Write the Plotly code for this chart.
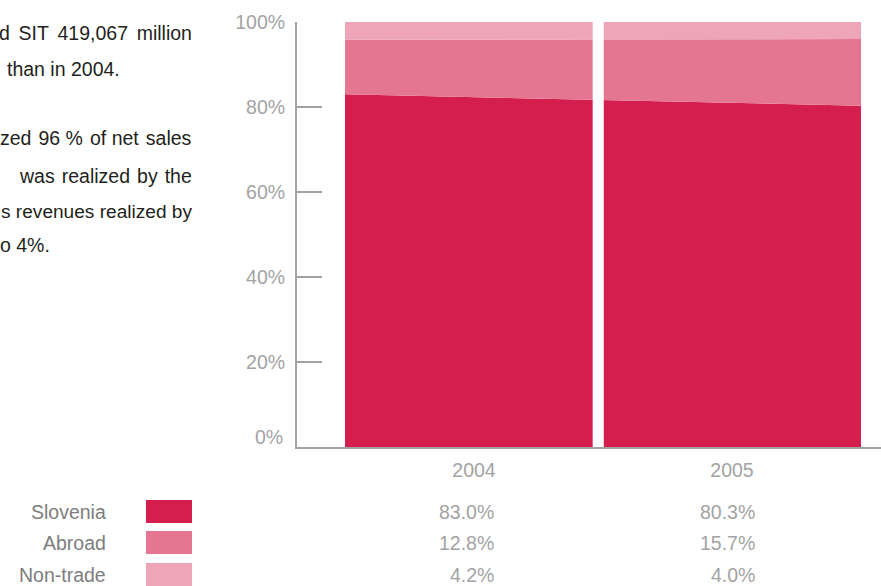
import plotly.graph_objects as go

# --- data -------------------------------------------------------------
years = [2004, 2005]
year_labels = ["2004", "2005"]
categories = ["Slovenia", "Abroad", "Non-trade"]
slovenia = [83.0, 80.3]
abroad = [12.8, 15.7]
non_trade = [4.2, 4.0]
y_ticks = [0, 20, 40, 60, 80, 100]
y_tick_labels = ["0%", "20%", "40%", "60%", "80%", "100%"]

# justified running text (wider word gaps use nbsp + hair spaces)
NB, HS = "\u00a0", "\u200a"
FS = 19.5
paragraph_right = {
    0: ((NB + HS + HS).join(["d", "SIT", "419,067", "million"]), 194, FS),
    3: ("zed" + NB + HS + "96" + NB + "%" + NB + HS + "of" + NB + "net" + NB + HS + "sales", 194, FS),
    4: ((NB + HS).join(["was", "realized", "by", "the"]), 194, FS),
    5: ("s revenues realized by", 194, 19.1),
}
paragraph_left = {1: ("than in 2004.", 5), 6: ("o 4%.", -2)}

# --- styles -----------------------------------------------------------
colors = ["#d41e4e", "#e47692", "#eea5b7"]
AXIS_GREY = "#a2a2a2"
LABEL_GREY = "#a3a3a3"
NAME_GREY = "#7d7d7d"
TEXT_DARK = "#231f20"
FONT = "Liberation Sans, Arial, sans-serif"

W, H = 881, 586
L, R, T, B = 297, 0, 22, 139
PW, PH = W - L - R, H - T - B


def px(x):
    return (x - L) / PW


def py(y):
    return (H - B - y) / PH


series = [slovenia, abroad, non_trade]
x_edges = [years[0] - 0.5, years[-1] + 0.5]

fig = go.Figure()
for name, vals, col in zip(categories, series, colors):
    fig.add_trace(go.Scatter(
        x=x_edges, y=vals, name=name, mode="lines",
        stackgroup="share", line=dict(width=0, color=col),
        fillcolor=col, hoverinfo="skip", showlegend=False,
    ))

# white separator between the two years
mid = (years[0] + years[1]) / 2
fig.add_shape(type="rect", xref="x", yref="y",
              x0=mid - 0.04, x1=mid + 0.003, y0=0, y1=101,
              fillcolor="white", line=dict(width=0), layer="above")

annotations = []

# 0% label sits a little above its tick
annotations.append(dict(xref="paper", yref="y", x=px(285), y=0, yshift=10,
                        text=y_tick_labels[0], showarrow=False,
                        xanchor="right", yanchor="middle",
                        font=dict(family=FONT, size=FS, color=LABEL_GREY)))

# legend / value table below the chart
row_y = [512, 543, 575]
col_shift = [22, 25]
for i, (name, vals, col) in enumerate(zip(categories, series, colors)):
    annotations.append(dict(xref="paper", yref="paper", x=px(108), y=py(row_y[i]),
                            text=name, showarrow=False, xanchor="right",
                            yanchor="middle",
                            font=dict(family=FONT, size=FS, color=NAME_GREY)))
    fig.add_shape(type="rect", xref="paper", yref="paper",
                  x0=px(146), x1=px(192),
                  y0=py(row_y[i] - 12), y1=py(row_y[i] + 11),
                  fillcolor=col, line=dict(width=0))
    for j, yr in enumerate(years):
        annotations.append(dict(xref="x", yref="paper", x=yr, xshift=col_shift[j],
                                y=py(row_y[i]), text=f"{vals[j]:.1f}%",
                                showarrow=False, xanchor="right",
                                yanchor="middle",
                                font=dict(family=FONT, size=FS, color=LABEL_GREY)))

# running text beside the chart
line_y = [33, 69, 104, 138, 176, 211, 245]
for i, (txt, x1, size) in paragraph_right.items():
    annotations.append(dict(xref="paper", yref="paper", x=px(x1),
                            y=py(line_y[i]), text=txt, showarrow=False,
                            xanchor="right", yanchor="middle",
                            font=dict(family=FONT, size=size, color=TEXT_DARK)))
for i, (txt, x0) in paragraph_left.items():
    annotations.append(dict(xref="paper", yref="paper", x=px(x0),
                            y=py(line_y[i]), text=txt, showarrow=False,
                            xanchor="left", yanchor="middle",
                            font=dict(family=FONT, size=FS, color=TEXT_DARK)))

x_per_px = (x_edges[1] - x_edges[0]) / (861 - 345)
fig.update_layout(
    width=W, height=H,
    margin=dict(l=L, r=R, t=T, b=B, pad=0),
    paper_bgcolor="white", plot_bgcolor="white",
    showlegend=False,
    annotations=annotations,
    xaxis=dict(
        range=[x_edges[0] - (345 - L) * x_per_px, x_edges[1] + (W - 861) * x_per_px],
        tickvals=years, ticktext=year_labels, ticks="",
        showgrid=False, zeroline=False,
        showline=True, linecolor=AXIS_GREY, linewidth=2,
        tickfont=dict(family=FONT, size=FS, color=LABEL_GREY),
        ticklabelstandoff=5, fixedrange=True,
    ),
    yaxis=dict(
        range=[0, 100],
        tickvals=y_ticks, ticktext=[""] + y_tick_labels[1:],
        ticks="inside", ticklen=25, tickwidth=2, tickcolor=AXIS_GREY,
        showgrid=False, zeroline=False,
        showline=True, linecolor=AXIS_GREY, linewidth=2,
        tickfont=dict(family=FONT, size=FS, color=LABEL_GREY),
        ticklabelstandoff=6, fixedrange=True,
    ),
)

fig.write_html("out.html", config={"displayModeBar": False})
